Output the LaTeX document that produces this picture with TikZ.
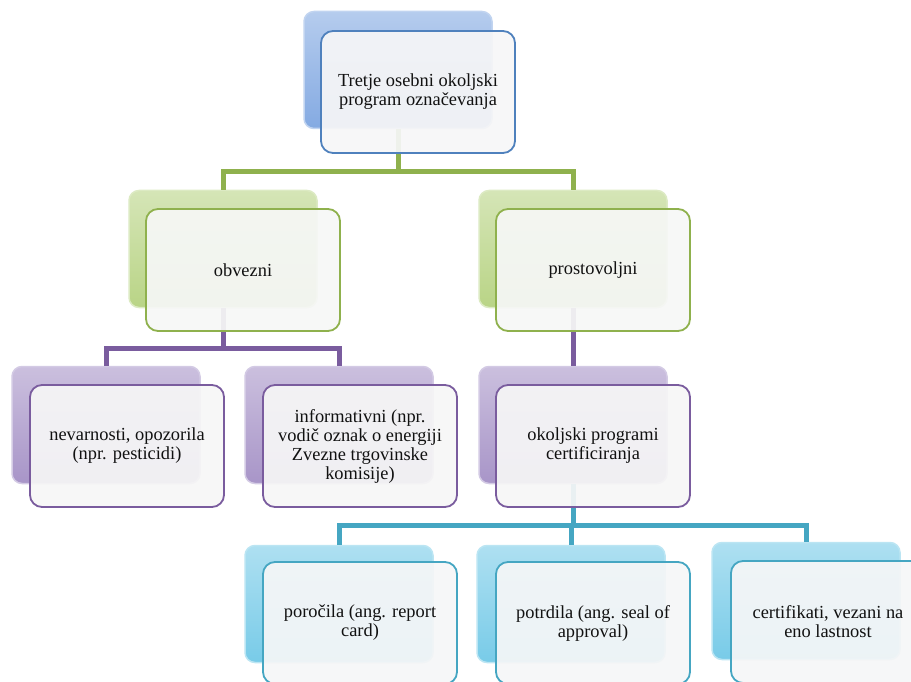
\documentclass[tikz,border=0pt]{standalone}
\usepackage{fontspec}
\setmainfont{Liberation Serif}

\definecolor{blueE}{HTML}{4F81BD}
\definecolor{blueB}{HTML}{84AAE2}
\definecolor{greenE}{HTML}{8FB14D}
\definecolor{greenB}{HTML}{B9D486}
\definecolor{purpE}{HTML}{7A5C9E}
\definecolor{purpB}{HTML}{A895C8}
\definecolor{cyanE}{HTML}{45A6C2}
\definecolor{cyanB}{HTML}{78CBE8}
\definecolor{txt}{HTML}{111111}

\tikzset{
  backbox/.style={rounded corners=10pt, minimum width=188pt, minimum height=117pt,
    inner sep=0pt, top color=#1!60!white, bottom color=#1,
    draw=#1!50!white, line width=1.5pt},
  frontbox/.style={rounded corners=12pt, minimum width=194pt, minimum height=122pt,
    inner sep=0pt, draw=#1, line width=1.8pt, fill=#1!15!gray!7!white, fill opacity=0.93,
    text opacity=1, text=txt, align=center,
    font=\fontsize{18.4}{19}\selectfont},
  conn/.style={draw=#1, line width=5pt, line cap=butt, line join=miter},
}

\begin{document}
\begin{tikzpicture}[x=1pt,y=-1pt]
\useasboundingbox (0,0) rectangle (911,682);
\clip (0,0) rectangle (911,682);

% coloured back plates
\node[backbox=blueB]  (tb) at (398,70)  {};
\node[backbox=greenB] (ob) at (223,249) {};
\node[backbox=greenB] (pb) at (573,249) {};
\node[backbox=purpB]  (nb) at (106,425) {};
\node[backbox=purpB]  (ib) at (339,425) {};
\node[backbox=purpB]  (kb) at (573,425) {};
\node[backbox=cyanB]  (rb) at (339,604) {};
\node[backbox=cyanB]  (ab) at (571,604) {};
\node[backbox=cyanB]  (cb) at (806,601) {};

% bus lines
\coordinate (gbus) at (0,172);
\coordinate (pbus) at (0,348);
\coordinate (bbus) at (0,525);

\draw[conn=greenE] (tb.south) -- (tb.south |- gbus) -| (ob.north);
\draw[conn=greenE] (tb.south |- gbus) -| (pb.north);

\draw[conn=purpE] (ob.south) -- (ob.south |- pbus) -| (nb.north);
\draw[conn=purpE] (ob.south |- pbus) -| (ib.north);
\draw[conn=purpE] (pb.south) -- (kb.north);

\draw[conn=cyanE] (kb.south) -- (kb.south |- bbus) -| (rb.north);
\draw[conn=cyanE] (kb.south |- bbus) -| (ab.north);
\draw[conn=cyanE] (kb.south |- bbus) -| (cb.north);

% front text boxes
\node[frontbox=blueE]  (tf) at (418,92)  {Tretje osebni okoljski\\program označevanja};
\node[frontbox=greenE] (of) at (243,270) {obvezni};
\node[frontbox=greenE] (pf) at (593,270) {prostovoljni};
\node[frontbox=purpE]  (nf) at (127,446) {nevarnosti, opozorila\\(npr. pesticidi)};
\node[frontbox=purpE]  (if) at (360,446) {informativni (npr.\\vodič oznak o energiji\\Zvezne trgovinske\\komisije)};
\node[frontbox=purpE]  (kf) at (593,446) {okoljski programi\\certificiranja};
\node[frontbox=cyanE]  (rf) at (360,623) {poročila (ang. report\\card)};
\node[frontbox=cyanE]  (af) at (593,623) {potrdila (ang. seal of\\approval)};
\node[frontbox=cyanE]  (cf) at (828,622) {certifikati, vezani na\\eno lastnost};
\end{tikzpicture}
\end{document}
